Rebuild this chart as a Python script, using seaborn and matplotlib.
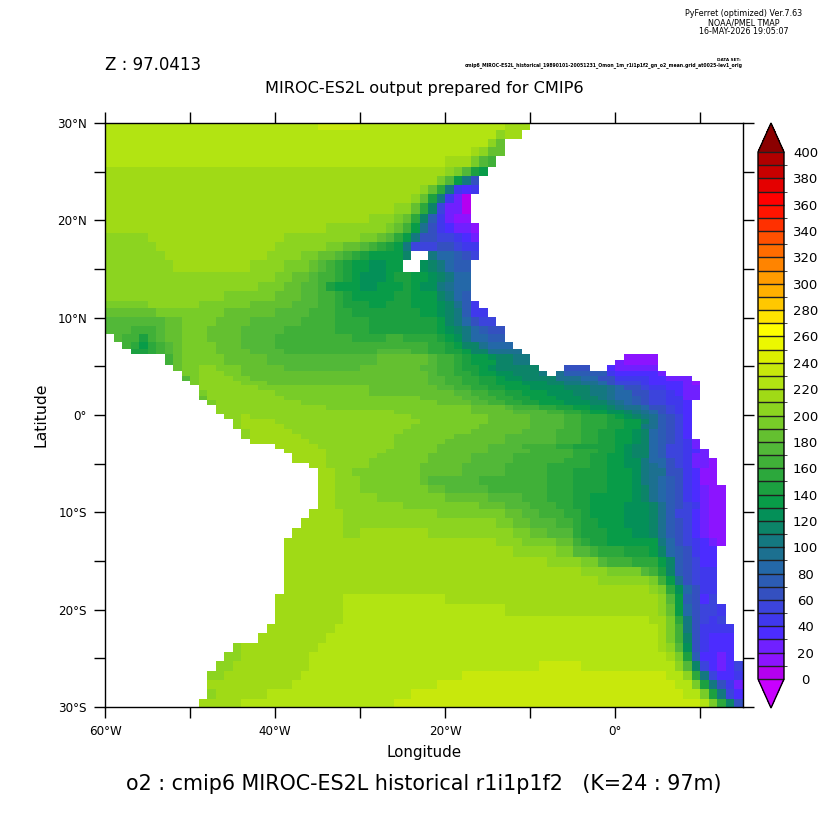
import numpy as np
import pandas as pd
import matplotlib
matplotlib.use('Agg')
import matplotlib.pyplot as plt
from matplotlib.colors import ListedColormap, BoundaryNorm
import seaborn as sns

# colour levels, bottom to top (one per 10 units)
level_edges = list(range(0, 410, 10))
level_colors = ['#b400f0', '#8c14ff', '#7020ff', '#4c2cff', '#4038ec', '#3c44dc', '#3450c0', '#2c5cb4',
                '#2468a8', '#1c7090', '#147880', '#0c8468', '#049058', '#089c48', '#1ca040', '#2ca83c',
                '#40b038', '#52b838', '#64c030', '#78cc28', '#8cd420', '#a0da16', '#b2e412', '#c8e80c',
                '#dcf000', '#ecf800', '#ffff00', '#ffe400', '#ffc800', '#ffb000', '#ff9c00', '#ff8400',
                '#ff6c00', '#ff5000', '#ff3000', '#ff1400', '#ff0000', '#e40000', '#c80000', '#b00000']
under_color = '#c800ff'
over_color = '#8b0000'

# latitude of the row edges, the model grid is finer near the equator
lat_edges = [30.00, 29.28, 28.36, 27.50, 26.61, 25.51, 24.55, 23.63, 22.71, 21.75, 20.65, 19.69, 18.73,
             17.81, 16.85, 15.92, 14.73, 13.70, 12.74, 11.71, 10.96, 10.07, 9.08, 8.32, 7.53, 6.78, 6.27,
             5.65, 5.07, 4.52, 4.04, 3.53, 3.08, 2.57, 2.05, 1.54, 1.03, 0.51, 0.10, -0.41, -0.92, -1.44,
             -1.95, -2.47, -2.98, -3.49, -3.94, -4.45, -4.90, -5.41, -6.34, -7.19, -8.05, -8.90, -9.66,
             -10.62, -11.64, -12.64, -13.53, -14.55, -15.58, -16.51, -17.47, -18.39, -19.35, -20.55,
             -21.47, -22.43, -23.36, -24.32, -25.34, -26.30, -27.23, -28.08, -29.18, -30.00]

# o2 per row from 30N down, 1 degree columns from 60W, written as value:count, - is land
north_rows = [
    "225:25 235:5 225:17 215:3 -:25",
    "225:46 205 215:2 -:26",
    "225:45 205 185 -:28",
    "225:43 215 205 185:2 -:28",
    "225:40 215:3 195 175 165 -:29",
    "215:40 205 195 175 145 135 -:30",
    "215:39 195 175 135 105 65 -:31",
    "215:37 205 185 155 105 45 35 45 -:31",
    "215:36 205 185 145 105 45 25 5 -:32",
    "215:34 205:2 185 155 115 55 25 25 5 -:32",
    "215:31 205:3 195 185 155 115 75 45 25 15 15 -:32",
    "215:26 205:7 195 185 165 135 95 65 45 35 25 25 15 -:31",
    "205:5 215:16 205:9 195:2 185 175 155 135 105 65 65 55 55 45 35 25 -:31",
    "205:6 215:14 205:6 195:2 185:2 175 165 155 145 135 105 55 55 55 65 65 55 45 45 -:31",
    "205:7 215:12 205:4 195:2 185:2 175 165 155 145 135:4 115 -:2 105 85 85 75 65 55 -:31",
    "205:8 215:9 205:4 195:3 185 175 165 155 145 135:2 125:2 135:2 -:2 125 115 105 85 75 75 -:32",
    "205:20 195:2 185:2 175 165:2 155 145 135 125:3 135 145:2 135:2 125 115 105 85:2 -:32",
    "205:18 195:3 185:2 175:2 165 145 135:3 125:2 135:3 145 135 125:2 105 95 85:2 -:32",
    "205:14 195:6 185:3 175:2 165:2 155 145 135:5 145:2 135:3 115 105 85 75 -:32",
    "195:5 205:6 195:6 185:5 175:3 165:2 155 145:3 135:2 145:3 135:3 125 115 95 75 45 -:31",
    "185:6 195:8 185:6 175:4 165:3 155:2 145:8 135:2 125 115 105 75 45 45 -:30",
    "175:7 185:2 195:4 185:4 175:6 165:4 155:4 145:8 135 115 105 85 65 55:2 -:29",
    "175:3 165:3 175 185:2 195:3 185:4 175:5 165:6 155:4 145:8 135 125 115 105 85 75 65 65 -:28",
    "-:1 175 165:2 145 165 175 185:2 195:3 185:4 175:4 165:9 155:4 165:2 155:4 145 135 125 105 85:2 75:2 -:28",
    "-:2 165 155 135 155 165 175 185 195:4 185:3 175:4 165:18 155:2 145 135 115:2 95 85:3 -:27",
    "-:3 145:2 155 165 175 185 195:4 185:4 175:4 165:11 175:4 165:2 155:2 145:2 135 115:2 95:4 -:26",
    "-:7 165 185 195:5 185:5 175:13 185:6 175 165:2 155 145 135:2 125 115:2 105:2 -:11 15:4 -:10",
    "-:7 165 185 195:5 185:5 175:13 185:6 175 165:2 155 145 135:3 115:2 105:2 -:10 25 15:4 -:10",
    "-:8 185 195:2 205:2 195:3 185:5 175:9 185:7 175:2 165:2 155 145:2 135 125 115:5 -:3 65:3 -:2 35 25:5 -:10",
    "-:9 195:2 205:3 195:2 185:22 175 165:2 155:2 145 135:2 125:2 115:3 105 -:1 95 75:5 45 35:5 25 -:9",
    "-:9 175 195 205:4 195:2 185:21 175:2 165:2 155:2 145:2 135 125:2 115:4 95:3 85:2 65:2 45:4 35:2 25:3 -:6",
    "-:10 195 205:5 195:3 185:19 175:2 165:2 155:2 145:2 135:3 125:3 115:2 105:2 95:2 85 65 55:3 45 35:4 25 15 -:5",
    "-:11 205:7 195:13 185:8 175:2 165:2 155:2 145:2 135:3 125:4 115:3 105:2 95 85 65:2 55 45:2 35:2 25:2 -:5",
    "-:11 195 205:8 195:11 185:10 175:2 165:2 155:2 145:2 135:3 125:3 115:2 105:2 95 85:2 65:2 55:2 45 35 25:2 -:5",
    "-:11 185 205:9 195:16 185:5 175:2 165:2 155:2 145:2 135:3 125:3 115:2 105 95 85:2 75 65 55:2 45:2 25:2 -:5",
    "-:12 195 205:10 195:16 185:4 175:2 165:2 155:2 145:2 135:3 125:3 115:2 105 95 85 75 65 55:2 45:2 35 -:7",
    "-:13 205:13 195:17 185:4 175 165:3 155:2 145:2 135:2 125:2 115 105 95:2 85 65:2 55 45 35 -:6",
]
south_rows = [
    "-:13 205:21 195:9 185:5 175:4 165:2 155:2 145 135:2 125:2 115 105 95 85 65 55 45 35 -:6",
    "-:14 205:2 215 205:19 195:9 185:5 175:4 165:2 155:3 145 135 125 115 105 95 75 65 55 35 -:6",
    "-:15 205 215:4 205:17 195:8 185:5 175:4 165:2 155:3 145:2 135:2 115 95 75 65 55 35 -:6",
    "-:15 205 215:5 205:15 195:8 185:6 175:4 165:2 155:3 145:2 135:2 105 95 75 65 55 35 -:6",
    "-:16 205 215:5 205:13 195:8 185:6 175:4 165:3 155:2 145:2 135:2 125 115 85 75 65 55 35 -:6",
    "-:16 205 215:6 205:11 195:7 185:6 175:6 165:3 155:2 145:2 135:2 125 115 85 75 65 55 35 -:6",
    "-:17 215:7 205:10 195:6 185:7 175:6 165:3 155:2 145:2 135:2 125 115 85 75 65 55 45 25 -:5",
    "-:20 215:5 205:9 195:5 185:6 175:4 165:4 155:2 145:5 135 125 115:2 85 75 55:2 45 25 -:5",
    "-:21 215:5 205:7 195:6 185:6 175:5 165:5 155:3 145:2 135 125 115:2 85 75 55:2 45 35 25 -:4",
    "-:22 215:4 205:6 195:6 185:5 175:5 165:7 155:2 145:2 135:2 125 115:2 85 75 55:2 45 25:2 -:4",
    "-:22 215:4 205:5 195:7 185:5 175:5 165:6 155:3 145:2 135:2 125:2 105 85:2 65 55 45 25:2 15 -:3",
    "-:24 215:2 205:5 195:6 185:5 175:5 165:5 155:5 145:2 135:2 125:2 105 95 85 65 55 45 25:2 15 -:3",
    "-:25 215:2 205:2 195:8 185:5 175:5 165:5 155:3 145:4 135:3 125 105 95:2 65:2 45 35 15:2 -:3",
    "-:25 215:2 205:3 195:7 185 175:6 165:8 155:3 145:4 135:3 125 105 95 85 75 65 45 35 15:2 -:3",
    "-:25 215:2 205:3 195:8 185:2 175:5 165:7 155:3 145:4 135:3 125 115 95 85 75 65 45 35 25 15:2 -:2",
    "-:25 215:2 205:5 195:8 185:5 175:4 165:3 155:3 145:2 135:5 125 115 95 85 75 65 45 35 25 15:2 -:2",
    "-:25 215:2 205:8 195:9 185:3 175:3 165:3 155:2 145:2 135:4 125:3 115 95 75 65 55 45 25 15:2 -:2",
    "-:24 215:4 205:11 195:8 185:2 175:2 165:3 155:2 145 135:4 125:3 115 95 75 55:2 35 25 15:2 -:2",
    "-:23 215:5 205:18 195:2 185:2 175:3 165:2 155 145:2 135:3 125:3 115 95 75 65 55 35 25 15:2 -:2",
    "-:22 215:6 205:2 215:8 205:10 195:2 185:2 175:3 155 145:3 135:3 125:2 115 95 75 65 55 35 25 15:2 -:2",
    "-:21 215:25 205:3 195:4 185:2 165 155 145:2 135:6 105 85 65 55 45 35 25 15 -:2",
    "-:21 215:27 205:5 195:2 175:2 165 155:3 145:3 135 115 85 75 65 45 35:2 -:3",
    "-:21 215:31 205:4 195:2 175 165:3 155:3 135 115 75 65 55 35:2 -:3",
    "-:21 215:35 205:3 195:4 175 165 145 115 75 65 55 45:2 -:3",
    "-:21 215:37 205:6 195 165 135 95 65 55 45:2 -:3",
    "-:21 215:43 205 195 155 125 85 65 45:2 -:3",
    "-:20 215:8 225:12 215:25 205 175 135 75 65 35 55 -:3",
    "-:20 215:8 225:19 215:18 205 185 135 85 65 55:2 45 -:2",
    "-:20 215:8 225:36 215:2 195 155 105 65 55 45 55 -:2",
    "-:19 215:8 225:38 215 195 165 105 65 45:4 -:1",
    "-:18 215:8 225:39 215 195 165 115 65 45 35:3 -:1",
    "-:15 205 215:9 225:40 215 205 175 125 65 45 35:3 -:1",
    "-:14 205:2 215:8 225:42 215 195 145 75 35:2 25 35 -:1",
    "-:13 205:2 215:9 225:27 235:5 225:11 205 175 115 55 35 25 35 55",
    "-:12 205:2 215:9 225:19 235:24 225:2 205 155 105 55 35:2 45",
    "-:12 215:10 225:17 235:28 225:2 195 145 105 65 45 25",
    "-:12 205 215:6 225:17 235:32 225:2 195 145 105 55 35",
    "-:11 215:5 225:18 235:36 225 195 155 115 65",
]

x_ticks = list(range(-60, 20, 10))
x_labels = ['60°W', '', '40°W', '', '20°W', '', '0°', '']
y_ticks = list(range(30, -35, -5))
y_labels = ['30°N', '', '20°N', '', '10°N', '', '0°', '', '10°S', '', '20°S', '', '30°S']


def parse_row(row, ncol=75):
    out = []
    for tok in row.split():
        val, _, count = tok.partition(':')
        count = int(count) if count else 1
        out += [np.nan if val == '-' else float(val)] * count
    if len(out) != ncol:
        print('row length', len(out), row[:30])
    return (out + [np.nan] * ncol)[:ncol]


def px(x, y):
    # reference pixels to figure fraction
    return x / 832, 1 - y / 832


sns.set_style('ticks')
plt.rcParams['font.family'] = ['DejaVu Sans']
plt.rcParams['text.color'] = 'black'
plt.rcParams['xtick.labelcolor'] = 'black'
plt.rcParams['ytick.labelcolor'] = 'black'

grid = np.array([parse_row(r) for r in north_rows + south_rows])

# heatmap cells are uniform, so repeat every row by its height in 0.1 degree
edge_idx = np.round((30 - np.array(lat_edges)) * 10).astype(int)
fine = np.repeat(grid, np.diff(edge_idx), axis=0)
df = pd.DataFrame(fine, columns=np.arange(-60, 15))

cmap = ListedColormap(level_colors)
cmap.set_under(under_color)
cmap.set_over(over_color)
norm = BoundaryNorm(level_edges, cmap.N)

fig = plt.figure(figsize=(8.32, 8.32), dpi=100)
ax = fig.add_axes([105 / 832, 1 - 707 / 832, 638 / 832, 584 / 832])
cax = fig.add_axes([758 / 832, 1 - 708 / 832, 26 / 832, 585 / 832])

sns.heatmap(df, ax=ax, cmap=cmap, norm=norm, cbar_ax=cax, xticklabels=False, yticklabels=False,
            cbar_kws={'extend': 'both', 'extendfrac': 0.055, 'ticks': list(range(0, 420, 20)),
                      'drawedges': True, 'spacing': 'uniform'})

ax.set_xlim(0, 75)
ax.set_ylim(600, 0)
ax.set_xticks([x + 60 for x in x_ticks])
ax.set_xticklabels(x_labels, fontsize=8.6)
ax.set_yticks([(30 - y) * 10 for y in y_ticks])
ax.set_yticklabels(y_labels, fontsize=8.6, rotation=0)
ax.tick_params(axis='both', length=8, width=1, color='black', pad=5)
ax.tick_params(top=True, right=True, labeltop=False, labelright=False)
ax.set_xlabel('')
ax.set_ylabel('')
for side in ax.spines.values():
    side.set_visible(True)
    side.set_color('black')
    side.set_linewidth(1)

cb = ax.collections[0].colorbar
cb.outline.set_linewidth(1)
cb.outline.set_edgecolor('black')
cb.dividers.set_linewidth(1)
cb.dividers.set_color('#202020')
cax.tick_params(length=0, pad=15.5, labelsize=9.5, labelcolor='black')
for lab in cax.get_yticklabels():
    lab.set_ha('center')

fig.text(*px(424, 752), 'Longitude', ha='center', va='center', fontsize=10.9)
fig.text(*px(41, 415), 'Latitude', ha='center', va='center', rotation=90, fontsize=11.3)
fig.text(*px(424, 88), 'MIROC-ES2L output prepared for CMIP6', ha='center', va='center', fontsize=11.6)
fig.text(*px(105, 65), 'Z : 97.0413', ha='left', va='center', fontsize=12)
fig.text(*px(424, 784), 'o2 : cmip6 MIROC-ES2L historical r1i1p1f2   (K=24 : 97m)',
         ha='center', va='center', fontsize=14.9)
fig.text(*px(744, 14), 'PyFerret (optimized) Ver.7.63', ha='center', va='center', fontsize=5.8)
fig.text(*px(744, 23), 'NOAA/PMEL TMAP', ha='center', va='center', fontsize=5.8)
fig.text(*px(744, 32), '16-MAY-2026 19:05:07', ha='center', va='center', fontsize=5.8)
fig.text(*px(741, 60), 'DATA SET:', ha='right', va='center', fontsize=3.1, fontweight='bold')
fig.text(*px(743, 65), 'cmip6_MIROC-ES2L_historical_19890101-20051231_Omon_1m_r1i1p1f2_gn_o2_mean.grid_at0025-lev1_orig',
         ha='right', va='center', fontsize=3.3, fontweight='bold')

fig.savefig('out.png', dpi=100)
